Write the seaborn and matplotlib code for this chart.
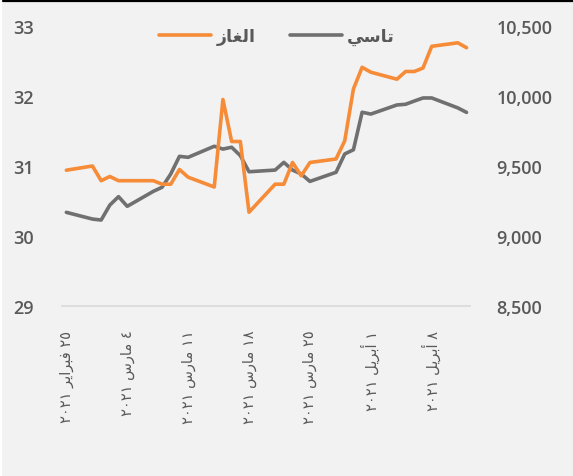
import matplotlib
matplotlib.use("Agg")
import matplotlib.pyplot as plt
import matplotlib.dates as mdates
from matplotlib.lines import Line2D
from matplotlib.patches import Rectangle
import seaborn as sns
import pandas as pd

# ---------------- data ----------------
dates = ["2021-02-25", "2021-02-28", "2021-03-01", "2021-03-02", "2021-03-03", "2021-03-04",
         "2021-03-07", "2021-03-08", "2021-03-09", "2021-03-10", "2021-03-11",
         "2021-03-14", "2021-03-15", "2021-03-16", "2021-03-17", "2021-03-18",
         "2021-03-21", "2021-03-22", "2021-03-23", "2021-03-24", "2021-03-25",
         "2021-03-28", "2021-03-29", "2021-03-30", "2021-03-31", "2021-04-01",
         "2021-04-04", "2021-04-05", "2021-04-06", "2021-04-07", "2021-04-08",
         "2021-04-11", "2021-04-12"]
gas = [30.94, 31.00, 30.79, 30.85, 30.79, 30.79, 30.79, 30.74, 30.74, 30.95, 30.84,
       30.70, 31.95, 31.35, 31.35, 30.34, 30.74, 30.74, 31.05, 30.86, 31.05,
       31.10, 31.36, 32.10, 32.41, 32.34, 32.24, 32.35, 32.35, 32.40, 32.71,
       32.76, 32.69]
tasi = [9169, 9121, 9114, 9221, 9281, 9212, 9319, 9348, 9443, 9569, 9562,
        9641, 9621, 9634, 9574, 9459, 9471, 9526, 9471, 9443, 9390,
        9455, 9586, 9616, 9884, 9871, 9936, 9941, 9964, 9986, 9986,
        9915, 9883]
series_names = ["الغاز", "تاسي"]
tick_dates = ["2021-02-25", "2021-03-04", "2021-03-11", "2021-03-18",
              "2021-03-25", "2021-04-01", "2021-04-08"]
tick_labels = ["٢٥ فبراير ٢٠٢١", "٤ مارس ٢٠٢١", "١١ مارس ٢٠٢١", "١٨ مارس ٢٠٢١",
               "٢٥ مارس ٢٠٢١", "١ أبريل ٢٠٢١", "٨ أبريل ٢٠٢١"]
left_ticks = [29, 30, 31, 32, 33]
right_ticks = [8500, 9000, 9500, 10000, 10500]

# ------------- simple Arabic shaping (matplotlib has no bidi/shaping) -------------
FORMS = {  # isolated, final, initial, medial
    "\u0627": ("\uFE8D", "\uFE8E", None, None),
    "\u0623": ("\uFE83", "\uFE84", None, None),
    "\u0644": ("\uFEDD", "\uFEDE", "\uFEDF", "\uFEE0"),
    "\u063A": ("\uFECD", "\uFECE", "\uFECF", "\uFED0"),
    "\u0632": ("\uFEAF", "\uFEB0", None, None),
    "\u062A": ("\uFE95", "\uFE96", "\uFE97", "\uFE98"),
    "\u0633": ("\uFEB1", "\uFEB2", "\uFEB3", "\uFEB4"),
    "\u064A": ("\uFEF1", "\uFEF2", "\uFEF3", "\uFEF4"),
    "\u0641": ("\uFED1", "\uFED2", "\uFED3", "\uFED4"),
    "\u0628": ("\uFE8F", "\uFE90", "\uFE91", "\uFE92"),
    "\u0631": ("\uFEAD", "\uFEAE", None, None),
    "\u0645": ("\uFEE1", "\uFEE2", "\uFEE3", "\uFEE4"),
}


def shape_word(w):
    out = []
    for i, ch in enumerate(w):
        if ch not in FORMS:
            out.append(ch)
            continue
        prev = w[i - 1] if i > 0 else None
        nxt = w[i + 1] if i + 1 < len(w) else None
        cp = prev in FORMS and FORMS[prev][2] is not None
        cn = FORMS[ch][2] is not None and nxt in FORMS
        f = FORMS[ch]
        if cp and cn:
            out.append(f[3])
        elif cp:
            out.append(f[1])
        elif cn:
            out.append(f[2])
        else:
            out.append(f[0])
    return "".join(out)


def visual(s):
    toks = s.split(" ")
    vis = []
    for t in toks:
        if any(c in FORMS for c in t):
            vis.append(shape_word(t)[::-1])
        else:
            vis.append(t)
    return " ".join(reversed(vis))


# ---------------- figure ----------------
sns.set_theme(style="white")
plt.rcParams["font.family"] = ["Open Sans", "DejaVu Sans"]

W, H = 573, 477
fig = plt.figure(figsize=(W / 100, H / 100), dpi=100)
fig.patch.set_facecolor("white")
fig.add_artist(Rectangle((2 / W, 0), 1, 1 - 1 / H, transform=fig.transFigure,
                         facecolor="#F2F2F2", edgecolor="none", zorder=-10))
fig.add_artist(Line2D([3 / W, 1], [1 - 2 / H, 1 - 2 / H], transform=fig.transFigure,
                      color="black", lw=1.6, zorder=5))

ax = fig.add_axes([62 / W, 1 - 307 / H, (470 - 62) / W, (307 - 27) / H])
ax.set_facecolor("none")

df = pd.DataFrame({"date": pd.to_datetime(dates), "gas": gas, "tasi": tasi})

orange = "#F68B38"
gray = "#707070"

# TASI on main axes (right scale), gas on twin (left scale), drawn on top
sns.lineplot(data=df, x="date", y="tasi", ax=ax, color=gray, lw=2.6)
ax2 = ax.twinx()
sns.lineplot(data=df, x="date", y="gas", ax=ax2, color=orange, lw=2.6)

ax.yaxis.tick_right()
ax.yaxis.set_label_position("right")
ax2.yaxis.tick_left()
ax2.yaxis.set_label_position("left")

ax.set_ylim(8500, 10500)
ax.set_yticks(right_ticks)
ax.set_yticklabels([f"{v:,}" for v in right_ticks])
ax2.set_ylim(29, 33)
ax2.set_yticks(left_ticks)
ax2.set_yticklabels([str(v) for v in left_ticks])

x0 = mdates.date2num(pd.Timestamp("2021-02-25")) - 0.5
x1 = mdates.date2num(pd.Timestamp("2021-04-12")) + 0.4
ax.set_xlim(x0, x1)
ax.set_xticks(mdates.date2num(pd.to_datetime(tick_dates)))
ax.set_xticklabels([visual(t) for t in tick_labels], rotation=90, ha="center", va="top",
                   fontsize=10.5, color="#595959", family=["DejaVu Sans"])

for a in (ax, ax2):
    a.set_xlabel("")
    a.set_ylabel("")
    for s in a.spines.values():
        s.set_visible(False)
    a.tick_params(length=0)
ax.spines["bottom"].set_visible(True)
ax.spines["bottom"].set_color("#D9D9D9")
ax.spines["bottom"].set_linewidth(1.2)
ax.tick_params(axis="x", pad=17)
ax.tick_params(axis="y", pad=19, labelsize=13, labelcolor="#595959")
ax2.tick_params(axis="y", pad=20, labelsize=13, labelcolor="#595959")
for lab in ax.get_yticklabels():
    lab.set_fontweight(600)
    lab.set_ha("left")
for lab in ax2.get_yticklabels():
    lab.set_fontweight(600)

handles = [Line2D([], [], color=orange, lw=2.6), Line2D([], [], color=gray, lw=2.6)]
fig.legend(handles, [visual(n) for n in series_names], loc="center",
           bbox_to_anchor=(277 / W, 1 - 37 / H), ncol=2, frameon=False,
           prop={"family": ["DejaVu Sans"], "weight": "bold", "size": 12.5},
           labelcolor="#595959", handlelength=3.0, handletextpad=0.3,
           columnspacing=2.0)

fig.savefig("out.png", dpi=100, facecolor=fig.get_facecolor())
